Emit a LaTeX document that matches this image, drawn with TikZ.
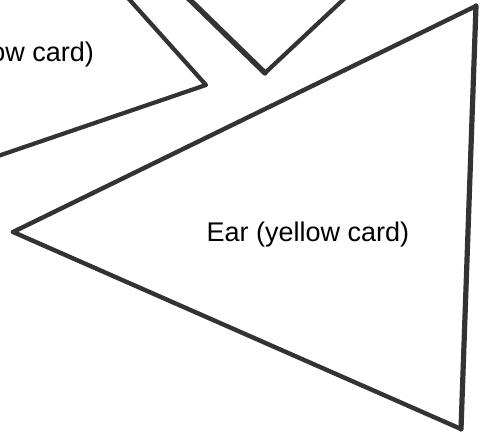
\documentclass[tikz,border=0pt]{standalone}
\usepackage{fontspec}
\setmainfont{Liberation Sans}
\begin{document}
\begin{tikzpicture}[x=1pt,y=1pt,
  cardline/.style={draw=black!80,line width=4.2pt,line join=round,line cap=round},
  lbl/.style={inner sep=0pt,font=\fontsize{27}{32}\selectfont}]
\useasboundingbox (0,0) rectangle (486,438);
\clip (0,0) rectangle (486,438);
% left (cut-off) card
\draw[cardline] (128,440) -- (206,353) -- (-2,282);
% V-shaped card at top
\draw[cardline,line width=5.4pt] (188,440) -- (265,365);
\draw[cardline,line width=4.2pt] (265,365) -- (345,440);
% big ear triangle
\draw[cardline,line width=4.4pt] (13,206) -- (476,432);
\draw[cardline,line width=5.2pt] (476,432) -- (461,9);
\draw[cardline,line width=4.4pt] (461,9) -- (13,206);
% labels
\node[lbl,anchor=base] (ear) at (308,196) {Ear (yellow card)};
\node[lbl,anchor=base east] (earleft) at (94,376) {ow card)};
\end{tikzpicture}
\end{document}
